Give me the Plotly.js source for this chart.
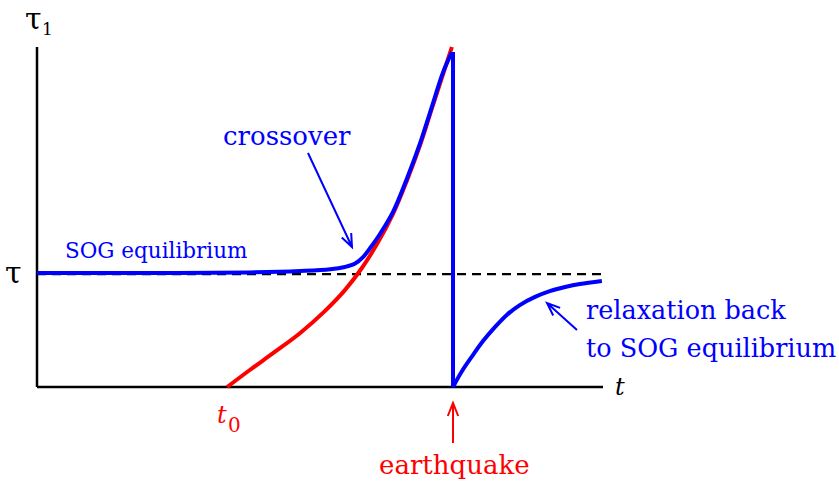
<!DOCTYPE html>
<html>
<head>
<meta charset="utf-8">
<script src="https://cdn.plot.ly/plotly-3.0.1.min.js"></script>
<style>html,body{margin:0;padding:0;background:#fff;}#chart{width:839px;height:483px;}</style>
</head>
<body>
<div id="chart"></div>
<script>
// ---- data (schematic units: time t, stress tau) ----
var tauEq = 3.32;          // SOG equilibrium level (dashed)
var tQuake = 7.35;         // earthquake time
var tMax = 10, tauMax = 10;

// red curve: unstable growth starting at t0
var tRed   = [3.36, 3.76, 4.20, 4.65, 5.09, 5.44, 5.74, 6.02, 6.29, 6.54, 6.77, 6.98, 7.17, 7.33];
var tauRed = [0.00, 0.50, 1.03, 1.59, 2.24, 2.85, 3.50, 4.24, 5.09, 6.09, 7.12, 8.21, 9.18, 10.0];

// blue curve: SOG equilibrium, crossover, growth
var tBlue   = [0.00, 2.00, 3.76, 4.65, 5.18, 5.44, 5.62, 5.76, 5.90, 6.06, 6.29, 6.54, 6.77, 6.98, 7.17, 7.33];
var tauBlue = [3.35, 3.35, 3.37, 3.41, 3.46, 3.53, 3.63, 3.82, 4.12, 4.50, 5.15, 6.15, 7.18, 8.26, 9.24, 9.85];

// blue drop at the earthquake
var tDrop   = [7.35, 7.35];
var tauDrop = [9.85, 0.00];

// blue relaxation back to SOG equilibrium
var tRelax   = [7.35, 7.51, 7.69, 7.88, 8.09, 8.30, 8.53, 8.80, 9.06, 9.33, 9.59, 9.98];
var tauRelax = [0.00, 0.47, 0.91, 1.35, 1.76, 2.12, 2.41, 2.65, 2.82, 2.94, 3.03, 3.12];

// ---- geometry ----
var W = 839, H = 483;
var BLUE = '#0000ff', RED = '#ff0000';
var FONT = 'DejaVu Serif';
var xr = [-37/56.6, 802/56.6];
var yr = [-96/34, 387/34];

function px(x){return x / W;}
function py(y){return 1 - y / H;}

var traces = [
  {x: tRed, y: tauRed, mode: 'lines', line: {color: RED, width: 4, shape: 'spline', smoothing: 1}, hoverinfo: 'skip'},
  {x: tBlue, y: tauBlue, mode: 'lines', line: {color: BLUE, width: 4, shape: 'spline', smoothing: 1}, hoverinfo: 'skip'},
  {x: tDrop, y: tauDrop, mode: 'lines', line: {color: BLUE, width: 4}, hoverinfo: 'skip'},
  {x: tRelax, y: tauRelax, mode: 'lines', line: {color: BLUE, width: 4, shape: 'spline', smoothing: 1}, hoverinfo: 'skip'}
];

function arrowPath(x1, y1, x2, y2, L, ang){
  var dx = x2 - x1, dy = y2 - y1, n = Math.sqrt(dx*dx + dy*dy);
  dx /= n; dy /= n;
  function rot(a){
    var c = Math.cos(a), s = Math.sin(a);
    return [x2 - L*(dx*c - dy*s), y2 - L*(dx*s + dy*c)];
  }
  var a = rot(ang), b = rot(-ang);
  return 'M' + px(x1) + ',' + py(y1) + ' L' + px(x2) + ',' + py(y2) +
         ' M' + px(a[0]) + ',' + py(a[1]) + ' L' + px(x2) + ',' + py(y2) +
         ' L' + px(b[0]) + ',' + py(b[1]);
}

var shapes = [
  {type: 'line', xref: 'x', yref: 'y', x0: 0, x1: tMax, y0: tauEq, y1: tauEq, layer: 'below',
   line: {color: '#000', width: 2.2, dash: '9px,6px'}},
  {type: 'line', xref: 'x', yref: 'y', x0: 0, x1: tMax, y0: 0, y1: 0, layer: 'below', line: {color: '#000', width: 2.5}},
  {type: 'line', xref: 'x', yref: 'y', x0: 0, x1: 0, y0: 0, y1: tauMax, layer: 'below', line: {color: '#000', width: 2.5}},
  {type: 'path', xref: 'paper', yref: 'paper', path: arrowPath(308, 153, 352, 247, 14, 0.38), line: {color: BLUE, width: 2}},
  {type: 'path', xref: 'paper', yref: 'paper', path: arrowPath(577, 330, 547, 303, 14, 0.38), line: {color: BLUE, width: 2}},
  {type: 'path', xref: 'paper', yref: 'paper', path: arrowPath(453, 443, 453, 403, 14, 0.38), line: {color: RED, width: 2}}
];

function lab(text, x, y, size, color, xanchor, italic, yanchor){
  return {xref: 'paper', yref: 'paper', x: px(x), y: py(y), text: text, showarrow: false,
          xanchor: xanchor || 'center', yanchor: yanchor || 'middle', borderpad: 0,
          font: {family: FONT, size: size, color: color, style: italic ? 'italic' : 'normal'}};
}

var annotations = [
  lab('τ', 33, 0, 30, '#000', 'center', false, 'top'),
  lab('1', 47, 29, 17, '#000'),
  lab('τ', 13, 272, 30, '#000'),
  lab('t', 620, 387, 24, '#000', 'center', true),
  lab('t', 222, 415, 24, RED, 'center', true),
  lab('0', 234, 425, 20, RED),
  lab('earthquake', 454, 465, 26, RED),
  lab('crossover', 287, 136, 26, BLUE),
  lab('SOG equilibrium', 156, 250.5, 21.5, BLUE),
  lab('relaxation back', 585, 310, 25.5, BLUE, 'left'),
  lab('to SOG equilibrium', 585, 348, 25.5, BLUE, 'left')
];

var layout = {
  width: W, height: H,
  margin: {l: 0, r: 0, t: 0, b: 0, pad: 0},
  paper_bgcolor: '#fff', plot_bgcolor: '#fff',
  showlegend: false,
  font: {family: FONT},
  xaxis: {range: xr, visible: false, fixedrange: true},
  yaxis: {range: yr, visible: false, fixedrange: true},
  shapes: shapes,
  annotations: annotations
};

Plotly.newPlot('chart', traces, layout, {staticPlot: true, displayModeBar: false});
</script>
</body>
</html>
